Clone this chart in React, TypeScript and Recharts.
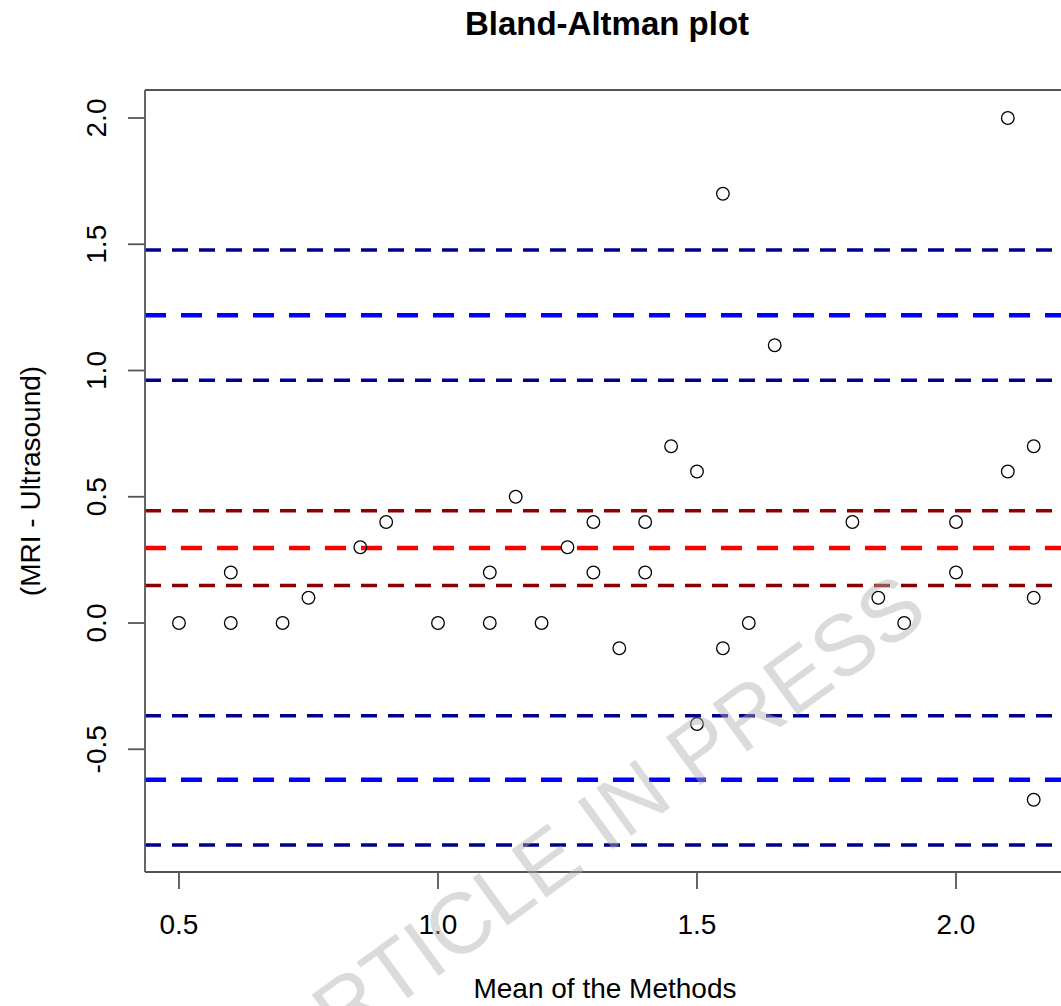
import {
    ScatterChart,
    Scatter,
    XAxis,
    YAxis,
    ReferenceLine
} from "recharts";

// mean of the two methods
const meanValues = [
    0.5, 0.6, 0.6, 0.7, 0.75, 0.85, 0.9, 1.0, 1.1, 1.1, 1.15, 1.2,
    1.25, 1.3, 1.3, 1.35, 1.4, 1.4, 1.45, 1.5, 1.5, 1.55, 1.55, 1.6,
    1.65, 1.8, 1.85, 1.9, 2.0, 2.0, 2.1, 2.1, 2.15, 2.15, 2.15
];

// MRI - Ultrasound
const diffValues = [
    0.0, 0.2, 0.0, 0.0, 0.1, 0.3, 0.4, 0.0, 0.2, 0.0, 0.5, 0.0,
    0.3, 0.4, 0.2, -0.1, 0.4, 0.2, 0.7, 0.6, -0.4, 1.7, -0.1, 0.0,
    1.1, 0.4, 0.1, 0.0, 0.4, 0.2, 2.0, 0.6, 0.7, 0.1, -0.7
];

// [lower CI, estimate, upper CI]
const upperLimit = [0.961, 1.219, 1.477];
const bias = [0.149, 0.297, 0.445];
const lowerLimit = [-0.879, -0.621, -0.367];

const xTicks = [0.5, 1.0, 1.5, 2.0];
const yTicks = [-0.5, 0.0, 0.5, 1.0, 1.5, 2.0];

const X_DOMAIN: [number, number] = [0.4344, 2.2027];
const Y_DOMAIN: [number, number] = [-0.9861, 2.1109];

const points = meanValues.map((x, i) => ({ x, y: diffValues[i] }));

const FONT = "'Liberation Sans', Arial, sans-serif";
const AXIS_GREY = "#555";

const XTick = (props: any) => {
    const { x, y, payload } = props;
    return (
        <text x={x} y={y + 43} textAnchor="middle" fontSize={28} fontFamily={FONT} fill="#000">
            {payload.value.toFixed(1)}
        </text>
    );
};

const YTick = (props: any) => {
    const { x, y, payload } = props;
    const bx = x - 20;
    return (
        <text
            x={bx}
            y={y}
            transform={`rotate(-90, ${bx}, ${y})`}
            textAnchor="middle"
            fontSize={28}
            fontFamily={FONT}
            fill="#000"
        >
            {payload.value.toFixed(1)}
        </text>
    );
};

const OpenCircle = (props: any) => (
    <circle cx={props.cx} cy={props.cy} r={6.3} fill="none" stroke="#000" strokeWidth={1.3} />
);

function limitLines(values: number[], key: string, thin: string, thick: string) {
    return values.map((v, i) => {
        const centre = i === 1;
        return (
            <ReferenceLine
                key={key + i}
                y={v}
                stroke={centre ? thick : thin}
                strokeWidth={centre ? 4.5 : 3.5}
                strokeDasharray={centre ? "21 15" : "16 11"}
            />
        );
    });
}

export default function App() {

    return (

        <div style={{ position: "absolute", left: 0, top: 0, width: 1061, height: 1006, overflow: "hidden", background: "#fff" }}>

            <ScatterChart
                width={1061}
                height={1006}
                margin={{ top: 90, right: 0, bottom: 0, left: 0 }}
            >

                <XAxis
                    type="number"
                    dataKey="x"
                    domain={X_DOMAIN}
                    ticks={xTicks}
                    allowDataOverflow
                    height={134}
                    tickSize={17}
                    tick={<XTick />}
                    tickLine={{ stroke: AXIS_GREY, strokeWidth: 1.8 }}
                    axisLine={{ stroke: AXIS_GREY, strokeWidth: 1.8 }}
                />

                <YAxis
                    type="number"
                    dataKey="y"
                    domain={Y_DOMAIN}
                    ticks={yTicks}
                    allowDataOverflow
                    width={145}
                    tickSize={17}
                    tick={<YTick />}
                    tickLine={{ stroke: AXIS_GREY, strokeWidth: 1.8 }}
                    axisLine={{ stroke: AXIS_GREY, strokeWidth: 1.8 }}
                />

                <ReferenceLine y={Y_DOMAIN[1]} stroke={AXIS_GREY} strokeWidth={1.8} />

                {limitLines(upperLimit, "u", "#00008B", "#0000FF")}
                {limitLines(bias, "b", "#8B0000", "#FF0000")}
                {limitLines(lowerLimit, "l", "#00008B", "#0000FF")}

                <Scatter
                    data={points}
                    shape={<OpenCircle />}
                    isAnimationActive={false}
                />

            </ScatterChart>

            <svg
                width={1061}
                height={1006}
                style={{ position: "absolute", left: 0, top: 0, pointerEvents: "none" }}
            >
                <text x={607} y={35} textAnchor="middle" fontSize={33} fontWeight="bold" fontFamily={FONT} fill="#000">
                    Bland-Altman plot
                </text>
                <text x={605} y={998} textAnchor="middle" fontSize={28} fontFamily={FONT} fill="#000">
                    Mean of the Methods
                </text>
                <text x={40} y={481} transform="rotate(-90, 40, 481)" textAnchor="middle" fontSize={28} fontFamily={FONT} fill="#000">
                    (MRI - Ultrasound)
                </text>
                <text
                    x={595}
                    y={825}
                    transform="rotate(-36, 595, 825)"
                    textAnchor="middle"
                    dominantBaseline="central"
                    fontSize={86}
                    fontFamily={FONT}
                    fill="#b0b0b0"
                    fillOpacity={0.45}
                >
                    ARTICLE IN PRESS
                </text>
            </svg>

        </div>

    );

}
